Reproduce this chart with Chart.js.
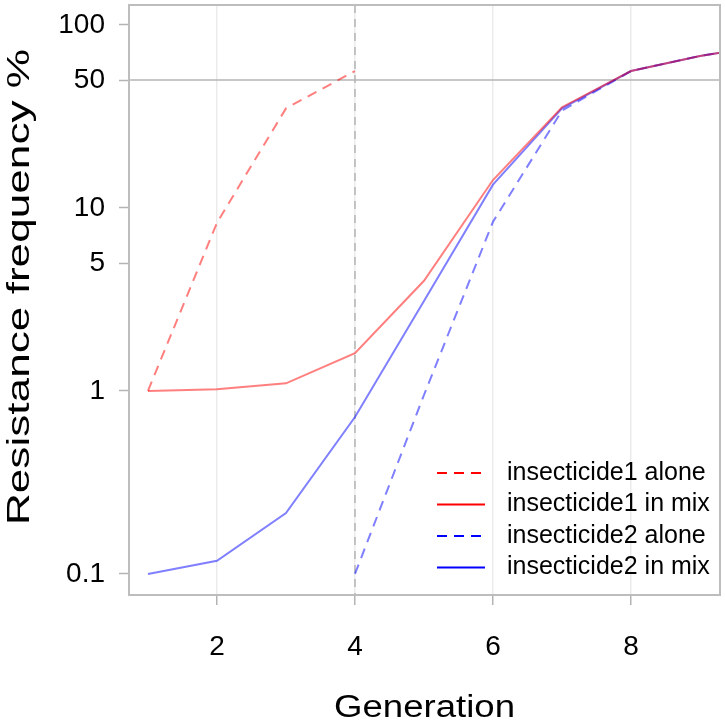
<!DOCTYPE html>
<html>
<head>
<meta charset="utf-8">
<script src="https://cdn.jsdelivr.net/npm/chart.js@4/dist/chart.umd.min.js"></script>
<style>
  body { margin: 0; background: #fff; }
  canvas { display: block; }
</style>
</head>
<body>
<canvas id="resChart" width="725" height="726"></canvas>
<script>
// generations and resistance frequencies (%)
const generations = [1, 2, 3, 4, 5, 6, 7, 8, 9, 10];
const ins1Alone = [1, 8.3, 35, 56, null, null, null, null, null, null];
const ins1Mix   = [1, 1.02, 1.1, 1.61, 4.0, 14.2, 35.5, 56, 67.7, 78];
const ins2Alone = [null, null, null, 0.1, 0.95, 8.4, 34, 56, 67.7, 78];
const ins2Mix   = [0.1, 0.118, 0.215, 0.72, 3.1, 13.4, 35, 56, 67.7, 78];

const yTicks = [0.1, 1, 5, 10, 50, 100];
const xTicks = [2, 4, 6, 8];
const refLine50 = 50;
const refGen = 4;
const xTitle = 'Generation';
const yTitle = 'Resistance frequency %';

const FONT = "'Liberation Sans', Arial, sans-serif";
const greyLine = '#b4b4b4';

function pts(vals) {
  return generations.map((g, i) => ({ x: g, y: vals[i] }));
}

const ctx = document.getElementById('resChart').getContext('2d');

// box, 50% line, dashed line at generation 4, axis titles (stretched like the original) and legend
const extras = {
  id: 'extras',
  beforeDatasetsDraw(chart) {
    const { ctx, chartArea: a, scales: { x, y } } = chart;
    ctx.save();
    ctx.strokeStyle = greyLine;
    ctx.lineWidth = 1.5;
    const yy = y.getPixelForValue(refLine50);
    ctx.beginPath(); ctx.moveTo(a.left, yy); ctx.lineTo(a.right, yy); ctx.stroke();
    const xx = x.getPixelForValue(refGen);
    ctx.setLineDash([8, 6]);
    ctx.beginPath(); ctx.moveTo(xx, a.top); ctx.lineTo(xx, a.bottom); ctx.stroke();
    ctx.restore();
  },
  afterDraw(chart) {
    const { ctx, chartArea: a } = chart;
    ctx.save();
    ctx.strokeStyle = '#bdbdbd';
    ctx.lineWidth = 2;
    ctx.strokeRect(a.left, a.top, a.right - a.left, a.bottom - a.top);

    // axis titles
    ctx.fillStyle = '#000';
    ctx.textAlign = 'center';
    ctx.textBaseline = 'alphabetic';
    ctx.save();
    ctx.font = '31px ' + FONT;
    ctx.translate((a.left + a.right) / 2, 717);
    ctx.scale(1.18, 1);
    ctx.fillText(xTitle, 0, 0);
    ctx.restore();
    ctx.save();
    ctx.font = '32px ' + FONT;
    ctx.translate(29, 287);
    ctx.rotate(-Math.PI / 2);
    ctx.scale(1.38, 1);
    ctx.fillText(yTitle, 0, 0);
    ctx.restore();

    // legend
    ctx.font = '25px ' + FONT;
    ctx.textAlign = 'left';
    ctx.textBaseline = 'middle';
    chart.data.datasets.forEach((ds, i) => {
      const cy = 473 + i * 31.5;
      ctx.strokeStyle = ds.legendColor;
      ctx.lineWidth = 2;
      ctx.setLineDash(ds.borderDash || []);
      ctx.beginPath(); ctx.moveTo(437, cy); ctx.lineTo(485, cy); ctx.stroke();
      ctx.fillText(ds.label, 507, cy);
    });
    ctx.restore();
  }
};

const chart = new Chart(ctx, {
  type: 'line',
  data: {
    datasets: [
      { label: 'insecticide1 alone', data: pts(ins1Alone), borderColor: 'rgba(255,0,0,0.5)', legendColor: '#ff0000', borderDash: [10, 7] },
      { label: 'insecticide1 in mix', data: pts(ins1Mix), borderColor: 'rgba(255,0,0,0.5)', legendColor: '#ff0000' },
      { label: 'insecticide2 alone', data: pts(ins2Alone), borderColor: 'rgba(0,0,255,0.5)', legendColor: '#0000ff', borderDash: [10, 7] },
      { label: 'insecticide2 in mix', data: pts(ins2Mix), borderColor: 'rgba(0,0,255,0.5)', legendColor: '#0000ff' }
    ]
  },
  options: {
    responsive: false,
    animation: false,
    layout: { padding: { top: 5, right: 5, left: 0, bottom: 0 } },
    elements: {
      line: { borderWidth: 2, tension: 0, fill: false },
      point: { radius: 0 }
    },
    plugins: { legend: { display: false }, tooltip: { enabled: false } },
    scales: {
      x: {
        type: 'linear',
        min: 0.725,
        max: 9.29,
        afterBuildTicks: s => { s.ticks = xTicks.map(v => ({ value: v })); },
        afterFit: s => { s.height = 131; s.paddingLeft = 0; s.paddingRight = 0; },
        ticks: { color: '#000', font: { family: FONT, size: 28 }, padding: 25, maxRotation: 0 },
        grid: { color: '#ebebeb', lineWidth: 1.5, tickColor: greyLine, tickLength: 10, tickWidth: 1.5 },
        border: { display: false }
      },
      y: {
        type: 'logarithmic',
        min: 0.0767,
        max: 128.5,
        afterBuildTicks: s => { s.ticks = yTicks.map(v => ({ value: v })); },
        afterFit: s => { s.width = 129; s.paddingTop = 0; s.paddingBottom = 0; },
        ticks: { color: '#000', font: { family: FONT, size: 28 }, padding: 14, callback: v => String(v) },
        grid: { drawOnChartArea: false, tickColor: greyLine, tickLength: 10, tickWidth: 1.5 },
        border: { display: false }
      }
    }
  },
  plugins: [extras]
});
</script>
</body>
</html>
